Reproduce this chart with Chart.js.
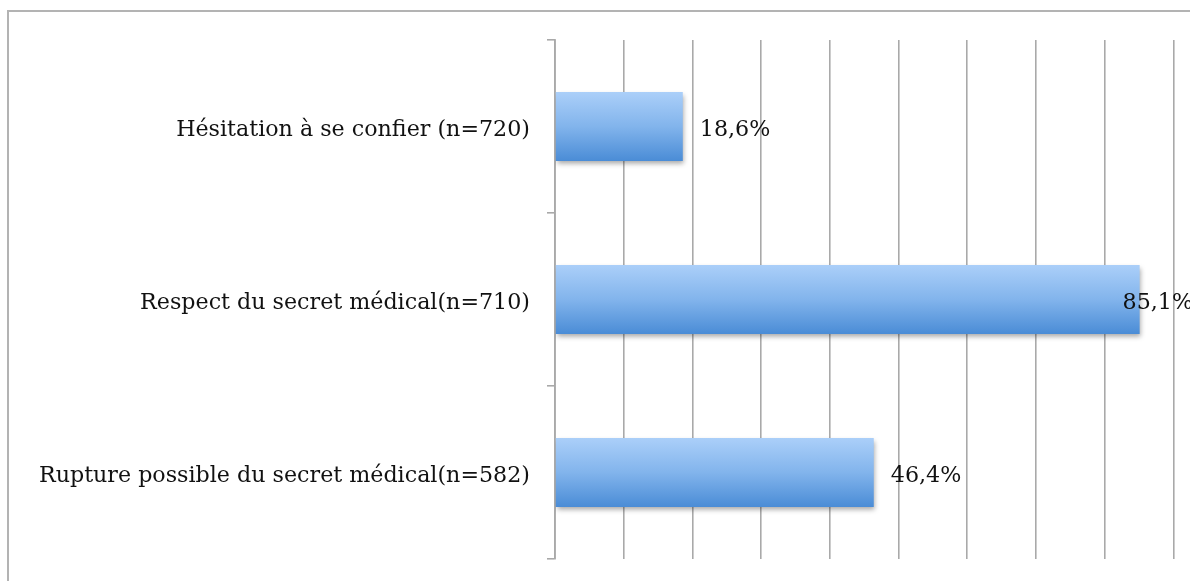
<!DOCTYPE html>
<html>
<head>
<meta charset="utf-8">
<script src="https://cdn.jsdelivr.net/npm/chart.js@4/dist/chart.umd.min.js"></script>
<style>
  html, body { margin: 0; padding: 0; background: #fff; overflow: hidden; }
  #wrap { position: relative; width: 1260px; height: 581px; }
</style>
</head>
<body>
<div id="wrap"><canvas id="c"></canvas></div>
<script>
const categories = [
  'Hésitation à se confier (n=720)',
  'Respect du secret médical(n=710)',
  'Rupture possible du secret médical(n=582)'
];
const values = [18.6, 85.1, 46.4];
const valueLabels = ['18,6%', '85,1%', '46,4%'];
const xTicks = [0, 10, 20, 30, 40, 50, 60, 70, 80, 90, 100];

const FONT = "'DejaVu Serif', serif";
const FONT_SIZE = 22.2;
const GRID = '#a9a9a9';
const VIEW_RIGHT = 1193;
const TEXT_DROP = 4;

const framePlugin = {
  id: 'frame',
  beforeDraw(chart) {
    const ctx = chart.ctx;
    ctx.save();
    ctx.fillStyle = '#fff';
    ctx.fillRect(0, 0, chart.width, chart.height);
    ctx.strokeStyle = '#b3b3b3';
    ctx.lineWidth = 2;
    ctx.strokeRect(8, 11, 3000, 3000);
    ctx.restore();
  }
};

const shadowPlugin = {
  id: 'barShadow',
  beforeDatasetsDraw(chart) {
    const ctx = chart.ctx;
    ctx.save();
    ctx.shadowColor = 'rgba(0,0,0,0.35)';
    ctx.shadowBlur = 5;
    ctx.shadowOffsetX = 1;
    ctx.shadowOffsetY = 3;
  },
  afterDatasetsDraw(chart) {
    chart.ctx.restore();
  }
};

const labelPlugin = {
  id: 'valueLabels',
  afterDatasetsDraw(chart) {
    const ctx = chart.ctx;
    const meta = chart.getDatasetMeta(0);
    ctx.save();
    ctx.font = FONT_SIZE + 'px ' + FONT;
    ctx.fillStyle = '#111';
    ctx.textBaseline = 'middle';
    ctx.textAlign = 'left';
    meta.data.forEach((bar, i) => {
      const txt = valueLabels[i];
      const w = ctx.measureText(txt).width;
      const x = Math.min(bar.x + 17, VIEW_RIGHT - w);
      ctx.fillText(txt, x, bar.y + TEXT_DROP);
    });
    ctx.restore();
  }
};

function barGradient(context) {
  const chart = context.chart;
  const y = chart.scales && chart.scales.y;
  if (!y || context.dataIndex === undefined) return '#6fa3e4';
  const c = y.getPixelForValue(context.dataIndex);
  const step = categories.length > 1 ? Math.abs(y.getPixelForValue(1) - y.getPixelForValue(0)) : y.height;
  const half = step * 0.4 / 2;
  if (!isFinite(c) || !isFinite(half)) return '#6fa3e4';
  const g = chart.ctx.createLinearGradient(0, c - half, 0, c + half);
  g.addColorStop(0, '#abcff9');
  g.addColorStop(0.5, '#82b4ec');
  g.addColorStop(1, '#4a8cd6');
  return g;
}

new Chart(document.getElementById('c'), {
  type: 'bar',
  data: {
    labels: categories,
    datasets: [{
      data: values,
      backgroundColor: barGradient,
      borderWidth: 0,
      categoryPercentage: 0.8,
      barPercentage: 0.5
    }]
  },
  options: {
    indexAxis: 'y',
    responsive: true,
    maintainAspectRatio: false,
    animation: false,
    layout: { padding: { top: 40, bottom: 22, right: 18, left: 0 } },
    plugins: { legend: { display: false }, tooltip: { enabled: false } },
    scales: {
      x: {
        min: 0, max: 100,
        afterBuildTicks(scale) { scale.ticks = xTicks.map(v => ({ value: v })); },
        afterFit(scale) { scale.height = 0; scale.paddingLeft = 0; scale.paddingRight = 0; },
        ticks: { display: false },
        grid: { color: GRID, lineWidth: 1.6, drawTicks: false },
        border: { display: false }
      },
      y: {
        afterFit(scale) { scale.width = 555; scale.paddingTop = 0; scale.paddingBottom = 0; },
        ticks: { color: '#111', font: { family: FONT, size: FONT_SIZE }, padding: 17, labelOffset: TEXT_DROP },
        grid: { drawOnChartArea: false, color: GRID, lineWidth: 1.6, tickLength: 8 },
        border: { display: true, color: GRID, width: 1.8 }
      }
    }
  },
  plugins: [framePlugin, shadowPlugin, labelPlugin]
});
</script>
</body>
</html>
